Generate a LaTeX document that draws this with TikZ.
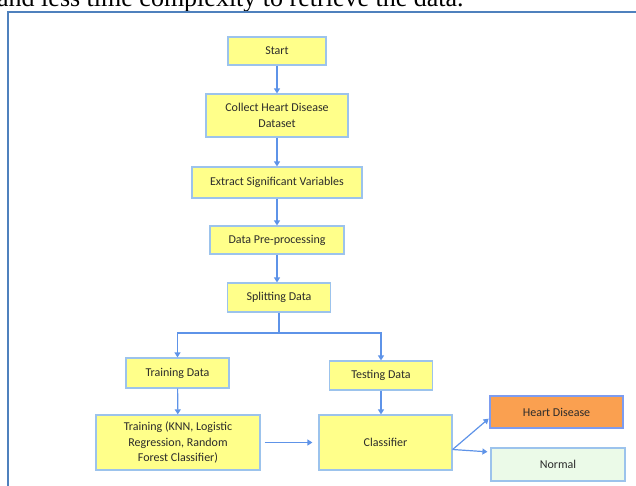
\documentclass[tikz,border=0pt]{standalone}
\usepackage{fontspec}
\setmainfont{Liberation Serif}
\newfontfamily\boxfont{Carlito}
\usetikzlibrary{arrows.meta}
\definecolor{boxyellow}{HTML}{FFFF8A}
\definecolor{boxline}{HTML}{9CC3EC}
\definecolor{arrowblue}{HTML}{5E93E8}
\definecolor{frameblue}{HTML}{4F81BD}
\definecolor{heartorange}{HTML}{FAA050}
\definecolor{normalgreen}{HTML}{EBFAE8}
\definecolor{boxtext}{HTML}{2B2B2B}
\begin{document}
\begin{tikzpicture}[x=1pt, y=-1pt,
	proc/.style={draw=boxline, fill=boxyellow, line width=1.2pt, inner sep=0pt, align=center,
		text=boxtext, font=\boxfont\fontsize{12}{15.5}\selectfont},
	arr/.style={draw=arrowblue, line width=1.2pt, -{Triangle[length=5pt, width=6pt]}},
	link/.style={draw=arrowblue, line width=1.2pt}]
		\useasboundingbox (0,0) rectangle (636,485);
		% Page text and frame
		\begin{scope}
			\clip (0,0) rectangle (636,485);
			\node[anchor=base west, inner sep=0pt, font=\fontsize{26}{30}\selectfont] (pagetext) at (-3,6) {and less time complexity to retrieve the data.};
		\end{scope}
		\draw[frameblue, line width=2pt] (8,486) -- (8,12) -- (637,12);
		% Flow chart
		\node[proc, minimum width=98pt, minimum height=28pt] (start) at (277,51) {Start};
		\node[proc, minimum width=142pt, minimum height=43pt] (collect) at (277,115.5) {Collect Heart Disease\\Dataset};
		\node[proc, minimum width=170pt, minimum height=31pt] (extract) at (277,182.5) {Extract Significant Variables};
		\node[proc, minimum width=134pt, minimum height=28pt] (prep) at (277,240) {Data Pre-processing};
		\node[proc, minimum width=103pt, minimum height=29pt] (split) at (279,297.5) {Splitting Data};
		\coordinate (fork) at (279,333);
		\node[proc, minimum width=103pt, minimum height=30pt] (traindata) at (177.5,373) {Training Data};
		\node[proc, minimum width=103pt, minimum height=29pt] (testdata) at (381,375.5) {Testing Data};
		\node[proc, minimum width=164pt, minimum height=55pt] (training) at (178,442.5) {Training (KNN, Logistic\\Regression, Random\\Forest Classifier)};
		\node[proc, minimum width=133pt, minimum height=55pt] (classifier) at (385.5,442.5) {Classifier};
		\node[proc, fill=heartorange, draw=boxline!80!blue, minimum width=133pt, minimum height=32pt] (heart) at (556.5,412) {Heart Disease};
		\node[proc, fill=normalgreen, minimum width=134pt, minimum height=33pt] (normal) at (558,464.5) {Normal};
		% Connectors
		\draw[arr] (start) -- (collect);
		\draw[arr] (collect) -- (extract);
		\draw[arr] (extract) -- (prep);
		\draw[arr] (prep) -- (prep |- split.north);
		\draw[link] (split) -- (fork);
		\draw[arr] (fork) -| (traindata);
		\draw[arr] (fork) -| (testdata);
		\draw[arr] (traindata) -- (training);
		\draw[arr] (testdata) -- (testdata |- classifier.north);
		\draw[arr, shorten <=4pt, shorten >=6pt] (training) -- (classifier);
		\draw[arr, shorten >=1pt] ([yshift=-7pt]classifier.east) -- (heart.west |- 0,418);
		\draw[arr, shorten >=3pt] ([yshift=-7pt]classifier.east) -- (normal.west |- 0,452);
	\end{tikzpicture}
\end{document}
